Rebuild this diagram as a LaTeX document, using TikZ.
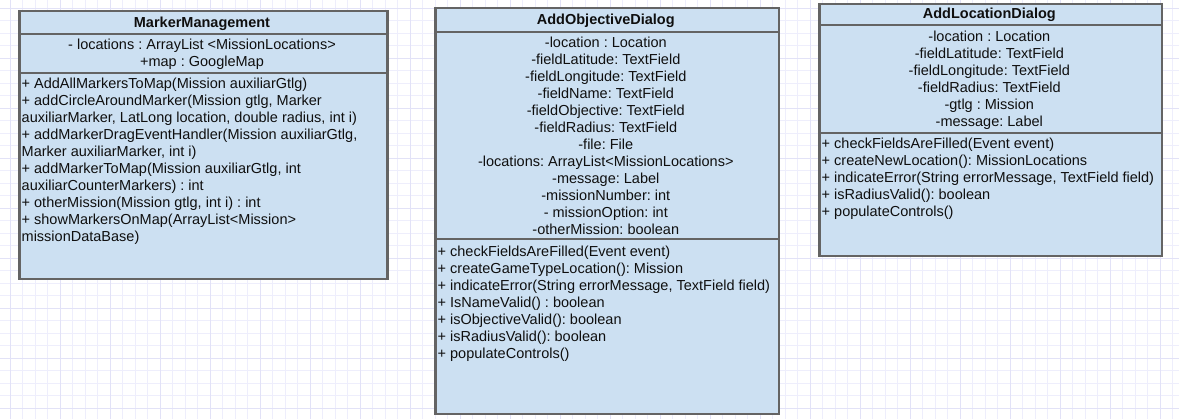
\documentclass[tikz,border=0pt]{standalone}
\usepackage{fontspec}
\setmainfont{Liberation Sans}
\frenchspacing
\definecolor{boxfill}{RGB}{204,224,242}
\definecolor{boxline}{RGB}{100,100,100}
\definecolor{gridminor}{RGB}{238,238,252}
\definecolor{gridmajor}{RGB}{226,226,247}
\definecolor{txt}{RGB}{15,15,15}
\begin{document}
\begin{tikzpicture}[x=1pt,y=-1pt,
  comp/.style={draw=boxline, fill=boxfill, line width=2.5pt, inner sep=0pt, anchor=north west},
  umltext/.style={inner sep=0pt, text=txt, font=\fontsize{14.5}{17}\selectfont\frenchspacing},
  ctext/.style={umltext, anchor=north, align=center},
  ltext/.style={umltext, anchor=north west, align=left},
  htext/.style={umltext, anchor=north, font=\fontsize{14.5}{17}\selectfont\bfseries}]
\useasboundingbox (0,0) rectangle (1179,419);
\fill[white] (0,0) rectangle (1179,419);
% grid
\foreach \i in {0,...,93} {\draw[gridminor, line width=1pt] ({10+12.5*\i},0) -- ({10+12.5*\i},419);}
\foreach \i in {0,...,33} {\draw[gridminor, line width=1pt] (0,{8.3+12.5*\i}) -- (1179,{8.3+12.5*\i});}
\foreach \i in {0,...,23} {\draw[gridmajor, line width=1pt] ({10+50*\i},0) -- ({10+50*\i},419);}
\foreach \i in {0,...,8} {\draw[gridmajor, line width=1pt] (0,{8.3+50*\i}) -- (1179,{8.3+50*\i});}

% MarkerManagement
\node[comp, minimum width=368pt, minimum height=23pt] (mmH) at (18,10) {};
\node[comp, minimum width=368pt, minimum height=39pt] (mmA) at (18,33) {};
\node[comp, minimum width=368pt, minimum height=206pt] (mmM) at (18,72) {};
\node[htext] (mmHt) at (202,15) {\strut MarkerManagement};
\node[ctext] (mmAt) at (202,37.3) {\strut - locations : ArrayList <MissionLocations>\\+map : GoogleMap};
\node[ltext] (mmMt) at (21.5,76.6) {\strut + AddAllMarkersToMap(Mission auxiliarGtlg)\\
+ addCircleAroundMarker(Mission gtlg, Marker\\
auxiliarMarker, LatLong location, double radius, int i)\\
+ addMarkerDragEventHandler(Mission auxiliarGtlg,\\
Marker auxiliarMarker, int i)\\
+ addMarkerToMap(Mission auxiliarGtlg, int\\
auxiliarCounterMarkers) : int\\
+ otherMission(Mission gtlg, int i) : int\\
+ showMarkersOnMap(ArrayList<Mission>\\
missionDataBase)};

% AddObjectiveDialog
\node[comp, minimum width=343.7pt, minimum height=24pt] (aoH) at (434,7) {};
\node[comp, minimum width=343.7pt, minimum height=207pt] (aoA) at (434,31) {};
\node[comp, minimum width=343.7pt, minimum height=175pt] (aoM) at (434,238) {};
\node[htext] (aoHt) at (605.8,12.3) {\strut AddObjectiveDialog};
\node[ctext] (aoAt) at (605.8,35.6) {\strut -location : Location\\
-fieldLatitude: TextField\\
-fieldLongitude: TextField\\
-fieldName: TextField\\
-fieldObjective: TextField\\
-fieldRadius: TextField\\
-file: File\\
-locations: ArrayList<MissionLocations>\\
-message: Label\\
-missionNumber: int\\
- missionOption: int\\
-otherMission: boolean};
\node[ltext] (aoMt) at (437.5,244.3) {\strut + checkFieldsAreFilled(Event event)\\
+ createGameTypeLocation(): Mission\\
+ indicateError(String errorMessage, TextField field)\\
+ IsNameValid() : boolean\\
+ isObjectiveValid(): boolean\\
+ isRadiusValid(): boolean\\
+ populateControls()};

% AddLocationDialog
\node[comp, minimum width=342.7pt, minimum height=21pt] (alH) at (818,3) {};
\node[comp, minimum width=342.7pt, minimum height=108pt] (alA) at (818,24) {};
\node[comp, minimum width=342.7pt, minimum height=123pt] (alM) at (818,132) {};
\node[htext] (alHt) at (989.3,6) {\strut AddLocationDialog};
\node[ctext] (alAt) at (989.3,29) {\strut -location : Location\\
-fieldLatitude: TextField\\
-fieldLongitude: TextField\\
-fieldRadius: TextField\\
-gtlg : Mission\\
-message: Label};
\node[ltext] (alMt) at (821.5,136.6) {\strut + checkFieldsAreFilled(Event event)\\
+ createNewLocation(): MissionLocations\\
+ indicateError(String errorMessage, TextField field)\\
+ isRadiusValid(): boolean\\
+ populateControls()};
\end{tikzpicture}
\end{document}
